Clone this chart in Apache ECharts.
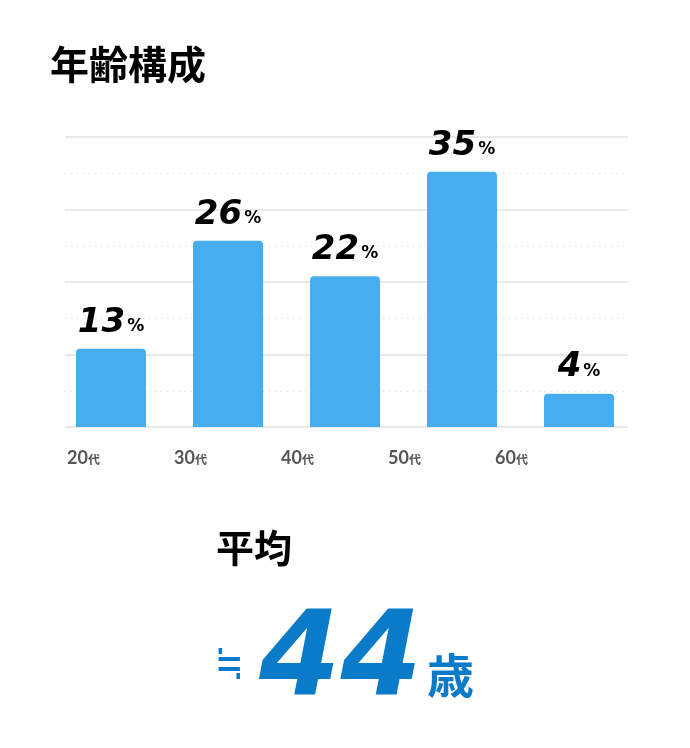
<!DOCTYPE html>
<html>
<head>
    <meta charset="utf-8">
    <title>年齢構成</title>
    <script src="https://cdn.jsdelivr.net/npm/echarts@6/dist/echarts.min.js"></script>
    <style>
        html, body { margin: 0; padding: 0; background: #fff; }
        #chart { width: 690px; height: 748px; }
    </style>
</head>
<body>
<div id="chart"></div>
<script type="text/javascript">
    // 年代
    var categories = ['20代', '30代', '40代', '50代', '60代'];
    // ラベルの数字（%）
    var shares = [13, 26, 22, 35, 4];
    // 棒の高さ
    var barValues = [10.8, 25.7, 20.8, 35.2, 4.6];
    // 平均年齢
    var averageAge = 44;

    var blue = '#0a7bc9';
    var myChart = echarts.init(document.getElementById('chart'));

    myChart.setOption({
        animation: false,
        grid: [
            // 棒
            {left: 52.5, width: 585, top: 137, height: 290},
            // 罫線
            {left: 65, width: 563, top: 137, height: 290},
            // 年代ラベル
            {left: 30, width: 535, top: 137, height: 290}
        ],
        xAxis: [
            {gridIndex: 0, type: 'category', data: categories, show: false},
            {gridIndex: 1, type: 'category', data: categories, show: false},
            {
                gridIndex: 2, type: 'category', data: categories,
                axisLine: {show: false}, axisTick: {show: false},
                axisLabel: {
                    margin: 22,
                    formatter: function (v) {
                        return '{n|' + v.slice(0, 2) + '}{u|' + v.slice(2) + '}';
                    },
                    rich: {
                        n: {fontSize: 18, fontWeight: 'bold', color: '#555', fontFamily: 'Lato'},
                        u: {fontSize: 12, fontWeight: 'bold', color: '#555', fontFamily: 'Noto Sans CJK JP', padding: [3, 0, 0, 0]}
                    }
                }
            }
        ],
        yAxis: [
            {gridIndex: 0, type: 'value', min: 0, max: 40, show: false},
            {
                gridIndex: 1, type: 'value', min: 0, max: 40, interval: 10,
                axisLine: {show: false}, axisTick: {show: false}, axisLabel: {show: false},
                splitLine: {show: true, lineStyle: {color: '#e2e2e2', width: 1.5}},
                minorTick: {show: false, splitNumber: 2},
                minorSplitLine: {show: true, lineStyle: {color: '#dcdcdc', type: [1, 5], width: 1}}
            },
            {gridIndex: 2, type: 'value', min: 0, max: 40, show: false}
        ],
        series: [{
            type: 'bar',
            xAxisIndex: 0,
            yAxisIndex: 0,
            data: barValues,
            barWidth: 70,
            z: 3,
            itemStyle: {color: '#46aeee', borderRadius: [4, 4, 0, 0]},
            label: {
                show: true,
                position: 'top',
                distance: 9,
                formatter: function (p) {
                    return '{n|' + shares[p.dataIndex] + '}{p|%}';
                },
                rich: {
                    n: {fontSize: 34, fontWeight: 'bold', fontStyle: 'italic', color: '#000', fontFamily: 'DejaVu Sans'},
                    p: {fontSize: 17, fontWeight: 'bold', color: '#000', fontFamily: 'DejaVu Sans', padding: [7, 0, 0, 2]}
                }
            }
        }],
        graphic: [
            {
                type: 'text', left: 50, top: 45,
                style: {text: '年齢構成', font: 'bold 39px "Noto Sans CJK JP"', fill: '#000'}
            },
            {
                type: 'text', left: 216, top: 529,
                style: {text: '平均', font: 'bold 38px "Noto Sans CJK JP"', fill: '#000'}
            },
            {
                type: 'text', x: 229, y: 661, scaleY: 1.5,
                style: {text: '≒', font: '34px "Noto Sans CJK JP"', fill: blue, align: 'center', verticalAlign: 'middle'}
            },
            {
                type: 'text', left: 259, top: 606,
                style: {text: String(averageAge), font: 'italic bold 117px "DejaVu Sans"', fill: blue}
            },
            {
                type: 'text', left: 427, top: 652,
                style: {text: '歳', font: 'bold 47px "Noto Sans CJK JP"', fill: blue}
            }
        ]
    });
</script>
</body>
</html>
